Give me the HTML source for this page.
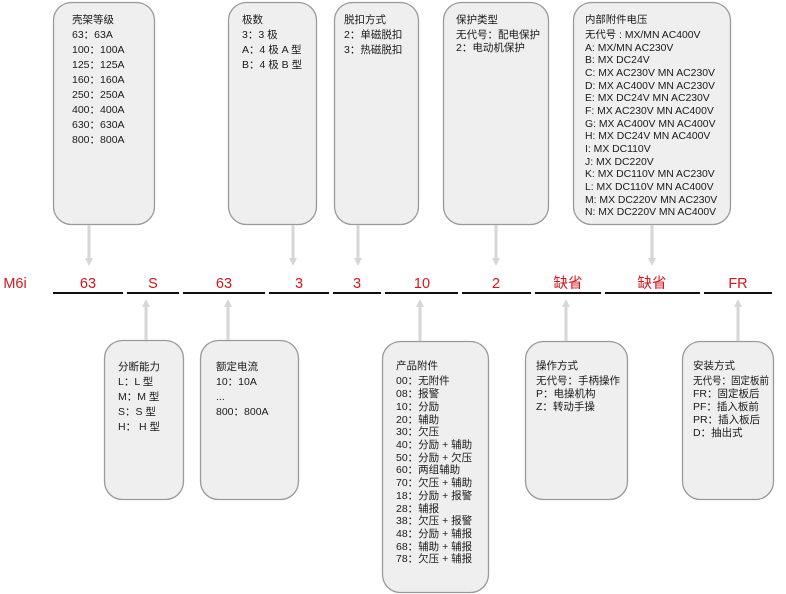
<!DOCTYPE html>
<html><head><meta charset="utf-8"><style>
html,body{margin:0;padding:0;background:#fff;}
svg{display:block;}
text{font-family:"Liberation Sans","Noto Sans CJK SC",sans-serif;fill:#1a1a1a;font-size:10.5px;}
.r{fill:#d7141e;font-size:14.5px;}
.s{font-size:10.4px;}
</style></head><body>
<svg width="786" height="594" viewBox="0 0 786 594" xmlns="http://www.w3.org/2000/svg">
<defs>
<marker id="ah" markerWidth="8" markerHeight="8" refX="4" refY="4" orient="auto" markerUnits="userSpaceOnUse">
<path d="M0,0 L8,4 L0,8 Z" fill="#d6d6d6"/></marker>
</defs>
<g fill="#efefef" stroke="#9a9a9a" stroke-width="1.3">
<rect x="53.5" y="2.5" width="101" height="222" rx="18"/>
<rect x="228.5" y="2.5" width="88" height="222" rx="18"/>
<rect x="334.5" y="2.5" width="84" height="222" rx="18"/>
<rect x="443.5" y="2.5" width="105" height="222" rx="18"/>
<rect x="573.5" y="2.5" width="157" height="222" rx="18"/>
<rect x="104.5" y="340.5" width="79" height="159" rx="18"/>
<rect x="200.5" y="340.5" width="98" height="159" rx="18"/>
<rect x="382.5" y="341.5" width="106" height="251" rx="18"/>
<rect x="525.5" y="341.5" width="102" height="158" rx="18"/>
<rect x="682.5" y="341.5" width="91" height="158" rx="18"/>
</g>
<g stroke="#d6d6d6" stroke-width="3" marker-end="url(#ah)">
<line x1="89" y1="225" x2="89" y2="262"/>
<line x1="293" y1="225" x2="293" y2="262"/>
<line x1="358" y1="225" x2="358" y2="262"/>
<line x1="496" y1="225" x2="496" y2="262"/>
<line x1="652" y1="225" x2="652" y2="262"/>
<line x1="146" y1="340" x2="146" y2="303"/>
<line x1="228" y1="340" x2="228" y2="303"/>
<line x1="420" y1="341" x2="420" y2="303"/>
<line x1="566" y1="341" x2="566" y2="303"/>
<line x1="738" y1="341" x2="738" y2="303"/>
</g>
<g stroke="#111" stroke-width="2">
<line x1="53" y1="293" x2="123" y2="293"/>
<line x1="127" y1="293" x2="179" y2="293"/>
<line x1="183" y1="293" x2="265" y2="293"/>
<line x1="269" y1="293" x2="329" y2="293"/>
<line x1="333" y1="293" x2="381" y2="293"/>
<line x1="385" y1="293" x2="458" y2="293"/>
<line x1="462" y1="293" x2="531" y2="293"/>
<line x1="535" y1="293" x2="601" y2="293"/>
<line x1="605" y1="293" x2="700" y2="293"/>
<line x1="704" y1="293" x2="772" y2="293"/>
</g>
<g text-anchor="middle">
<text class="r" x="15" y="288">M6i</text>
<text class="r" x="88" y="288">63</text>
<text class="r" x="153" y="288">S</text>
<text class="r" x="224" y="288">63</text>
<text class="r" x="299" y="288">3</text>
<text class="r" x="357" y="288">3</text>
<text class="r" x="422" y="288">10</text>
<text class="r" x="496" y="288">2</text>
<text class="r" x="568" y="288">缺省</text>
<text class="r" x="652" y="288">缺省</text>
<text class="r" x="738" y="288">FR</text>
</g>
<g>
<text x="72" y="23">壳架等级</text>
<text x="72" y="38">63：63A</text>
<text x="72" y="53">100：100A</text>
<text x="72" y="68">125：125A</text>
<text x="72" y="83">160：160A</text>
<text x="72" y="98">250：250A</text>
<text x="72" y="113">400：400A</text>
<text x="72" y="128">630：630A</text>
<text x="72" y="143">800：800A</text>

<text x="242" y="23">极数</text>
<text x="242" y="38">3：3 极</text>
<text x="242" y="53">A：4 极 A 型</text>
<text x="242" y="68">B：4 极 B 型</text>

<text x="344" y="23">脱扣方式</text>
<text x="344" y="38">2：单磁脱扣</text>
<text x="344" y="53">3：热磁脱扣</text>

<text x="456" y="23">保护类型</text>
<text x="456" y="38">无代号：配电保护</text>
<text x="456" y="51">2：电动机保护</text>
</g>
<g>
<text class="s" x="585" y="23">内部附件电压</text>
<text class="s" x="585" y="38">无代号 : MX/MN AC400V</text>
<text class="s" x="585" y="51">A: MX/MN AC230V</text>
<text class="s" x="585" y="63">B: MX DC24V</text>
<text class="s" x="585" y="76">C: MX AC230V MN AC230V</text>
<text class="s" x="585" y="89">D: MX AC400V MN AC230V</text>
<text class="s" x="585" y="101">E: MX DC24V MN AC230V</text>
<text class="s" x="585" y="114">F: MX AC230V MN AC400V</text>
<text class="s" x="585" y="127">G: MX AC400V MN AC400V</text>
<text class="s" x="585" y="139">H: MX DC24V MN AC400V</text>
<text class="s" x="585" y="152">I: MX DC110V</text>
<text class="s" x="585" y="165">J: MX DC220V</text>
<text class="s" x="585" y="177">K: MX DC110V MN AC230V</text>
<text class="s" x="585" y="190">L: MX DC110V MN AC400V</text>
<text class="s" x="585" y="203">M: MX DC220V MN AC230V</text>
<text class="s" x="585" y="215">N: MX DC220V MN AC400V</text>
</g>
<g>
<text x="118" y="370">分断能力</text>
<text x="118" y="385">L：L 型</text>
<text x="118" y="400">M：M 型</text>
<text x="118" y="415">S：S 型</text>
<text x="118" y="430">H： H 型</text>

<text x="216" y="370">额定电流</text>
<text x="216" y="385">10：10A</text>
<text x="216" y="400">...</text>
<text x="216" y="415">800：800A</text>

<text x="396" y="369">产品附件</text>
<text x="396" y="384">00：无附件</text>
<text x="396" y="397">08：报警</text>
<text x="396" y="410">10：分励</text>
<text x="396" y="423">20：辅助</text>
<text x="396" y="435">30：欠压</text>
<text x="396" y="448">40：分励 + 辅助</text>
<text x="396" y="461">50：分励 + 欠压</text>
<text x="396" y="473">60：两组辅助</text>
<text x="396" y="486">70：欠压 + 辅助</text>
<text x="396" y="499">18：分励 + 报警</text>
<text x="396" y="512">28：辅报</text>
<text x="396" y="524">38：欠压 + 报警</text>
<text x="396" y="537">48：分励 + 辅报</text>
<text x="396" y="550">68：辅助 + 辅报</text>
<text x="396" y="562">78：欠压 + 辅报</text>

<text x="536" y="369">操作方式</text>
<text x="536" y="384">无代号：手柄操作</text>
<text x="536" y="397">P：电操机构</text>
<text x="536" y="410">Z：转动手操</text>

<text x="693" y="369">安装方式</text>
<text x="693" y="384" textLength="76" lengthAdjust="spacingAndGlyphs">无代号：固定板前</text>
<text x="693" y="397">FR：固定板后</text>
<text x="693" y="410">PF：插入板前</text>
<text x="693" y="423">PR：插入板后</text>
<text x="693" y="436">D：抽出式</text>
</g>
</svg>
</body></html>
